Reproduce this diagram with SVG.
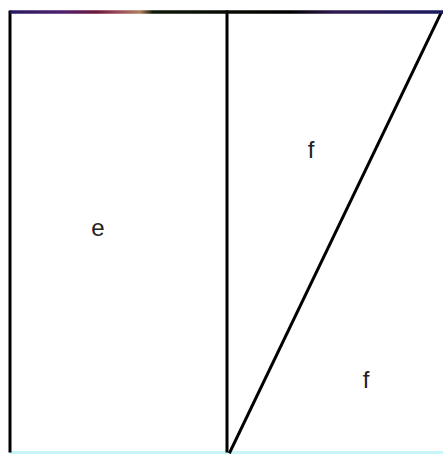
<svg xmlns="http://www.w3.org/2000/svg" width="443" height="455" viewBox="0 0 443 455">
<style>
.ln{stroke:#000;stroke-width:3;fill:none;stroke-linecap:square}
.lbl{font-family:"Liberation Sans",Arial,sans-serif;font-size:24px;fill:#222;text-anchor:middle}
</style>
<defs>
<linearGradient id="top" x1="10" y1="0" x2="443" y2="0" gradientUnits="userSpaceOnUse">
<stop offset="0" stop-color="#2a1a60"/>
<stop offset="0.12" stop-color="#502070"/>
<stop offset="0.2" stop-color="#6a1a3a"/>
<stop offset="0.25" stop-color="#9a4a5a"/>
<stop offset="0.3" stop-color="#b08060"/>
<stop offset="0.33" stop-color="#101808"/>
<stop offset="0.65" stop-color="#000"/>
<stop offset="0.75" stop-color="#301a50"/>
<stop offset="1" stop-color="#1a1a60"/>
</linearGradient>
</defs>
<rect width="443" height="455" fill="#fff"/>
<line x1="10" y1="452.5" x2="443" y2="452.5" stroke="#c8f6f8" stroke-width="3"/>
<g id="shapes">
<line class="ln" x1="10" y1="12" x2="10" y2="451"/>
<line class="ln" x1="227" y1="12" x2="227" y2="451"/>
<line class="ln" x1="230" y1="452" x2="441" y2="13"/>
<line x1="10" y1="12" x2="443" y2="12" stroke="url(#top)" stroke-width="3.5"/>
</g>
<g id="e"><text class="lbl" x="98" y="236">e</text></g>
<g id="f1"><text class="lbl" x="311" y="158">f</text></g>
<g id="f2"><text class="lbl" x="366" y="388">f</text></g>
</svg>
